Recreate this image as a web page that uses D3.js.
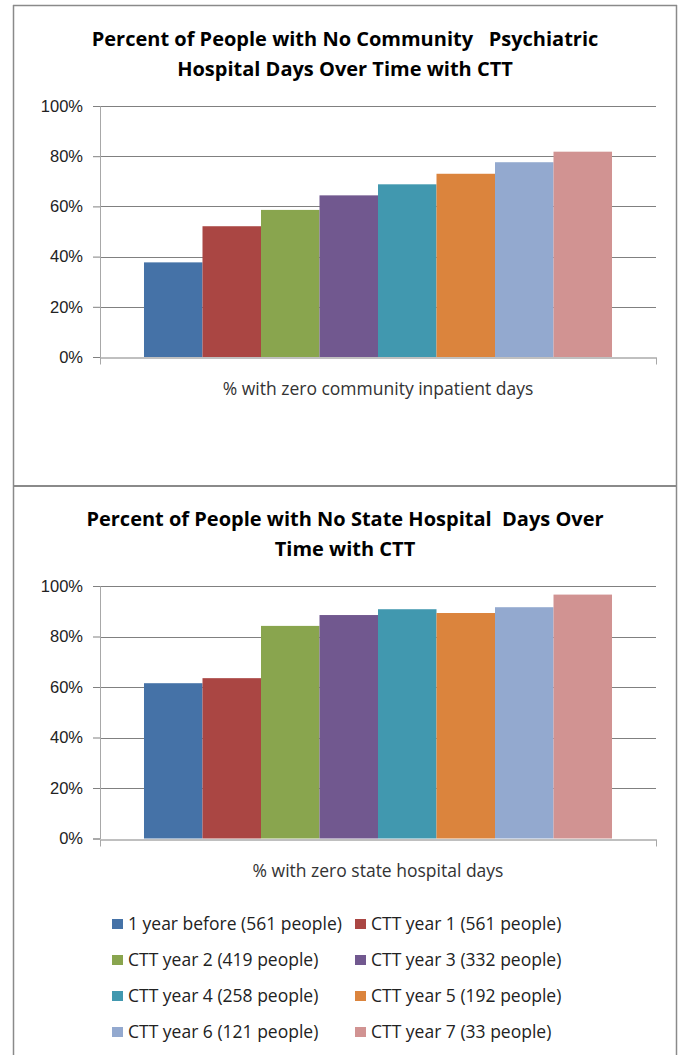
<!DOCTYPE html>
<html>
<head>
<meta charset="utf-8">
<script src="https://cdn.jsdelivr.net/npm/d3@7"></script>
<style>
  body { margin: 0; background: #fff; }
  svg { display: block; font-family: "Open Sans", sans-serif; }
  .title { font-weight: bold; font-size: 20px; fill: #000; white-space: pre; }
  .tick text { font-size: 16.5px; fill: #222; }
  .xlabel { font-size: 17.5px; fill: #333; }
  .legend text { font-size: 17.5px; fill: #222; }
</style>
</head>
<body>
<svg id="chart" width="678" height="1055"></svg>
<script>
const series = [
    '1 year before (561 people)',
    'CTT year 1 (561 people)',
    'CTT year 2 (419 people)',
    'CTT year 3 (332 people)',
    'CTT year 4 (258 people)',
    'CTT year 5 (192 people)',
    'CTT year 6 (121 people)',
    'CTT year 7 (33 people)'
];
const colors = ['#4572A7', '#AA4643', '#89A54E', '#71588F', '#4198AF', '#DB843D', '#93A9CF', '#D19392'];

const communityValues = [0.377, 0.521, 0.586, 0.644, 0.688, 0.730, 0.776, 0.818];
const stateValues = [0.615, 0.635, 0.842, 0.885, 0.908, 0.893, 0.916, 0.966];

const yTicks = [0, 0.2, 0.4, 0.6, 0.8, 1.0];

const charts = [
    {
        title: ['Percent of People with No Community   Psychiatric', 'Hospital Days Over Time with CTT'],
        xLabel: '% with zero community inpatient days',
        values: communityValues,
        titleY: 46,
        top: 106, bottom: 357, labelY: 395
    },
    {
        title: ['Percent of People with No State Hospital  Days Over', 'Time with CTT'],
        xLabel: '% with zero state hospital days',
        values: stateValues,
        titleY: 526,
        top: 586, bottom: 838.5, labelY: 877
    }
];

const svg = d3.select('#chart');
const plotLeft = 100, plotRight = 656;
const format = d3.format('.0%');

// frame
const borderColor = '#8a8a8a';
svg.append('line').attr('x1', 13.5).attr('x2', 13.5).attr('y1', 5).attr('y2', 1055)
    .attr('stroke', borderColor).attr('stroke-width', 1.5);
svg.append('line').attr('x1', 676.5).attr('x2', 676.5).attr('y1', 5).attr('y2', 1055)
    .attr('stroke', borderColor).attr('stroke-width', 1.5);
svg.append('line').attr('x1', 13).attr('x2', 677).attr('y1', 5.5).attr('y2', 5.5)
    .attr('stroke', borderColor).attr('stroke-width', 1.5);
svg.append('line').attr('x1', 13).attr('x2', 677).attr('y1', 486).attr('y2', 486)
    .attr('stroke', borderColor).attr('stroke-width', 2);

// one category, bars side by side (gap width 150%)
const group = d3.scaleBand().domain(['all']).range([plotLeft, plotRight])
    .paddingInner(0).paddingOuter(0.094);
const x = d3.scaleBand().domain(series)
    .range([group('all'), group('all') + group.bandwidth()]).padding(0);
const color = d3.scaleOrdinal().domain(series).range(colors);

charts.forEach(c => drawChart(c));

function drawChart(c) {
    const g = svg.append('g');
    const y = d3.scaleLinear().domain([0, 1]).range([c.bottom, c.top]);

    g.append('text')
        .attr('class', 'title')
        .attr('x', 345)
        .attr('y', c.titleY)
        .attr('text-anchor', 'middle')
        .selectAll('tspan')
        .data(c.title)
        .enter()
        .append('tspan')
        .attr('x', 345)
        .attr('dy', (d, i) => i === 0 ? 0 : 30)
        .text(d => d);

    // gridlines
    g.selectAll('.grid')
        .data(yTicks.slice(1))
        .enter()
        .append('line')
        .attr('class', 'grid')
        .attr('x1', plotLeft)
        .attr('x2', plotRight)
        .attr('y1', d => Math.round(y(d)) + 0.5)
        .attr('y2', d => Math.round(y(d)) + 0.5)
        .attr('stroke', '#808080');

    // bars
    g.selectAll('.bar')
        .data(c.values)
        .enter()
        .append('rect')
        .attr('class', 'bar')
        .attr('x', (d, i) => x(series[i]))
        .attr('width', x.bandwidth())
        .attr('y', d => y(d))
        .attr('height', d => y(0) - y(d))
        .attr('fill', (d, i) => color(series[i]));

    // y axis
    const yAxis = g.append('g')
        .attr('transform', 'translate(' + plotLeft + ',0)')
        .call(d3.axisLeft(y).tickValues(yTicks).tickFormat(format).tickSize(7).tickPadding(10));
    yAxis.select('.domain').attr('stroke', '#a8a8a8');
    yAxis.selectAll('.tick line').attr('stroke', '#808080');
    yAxis.selectAll('.tick text').attr('font-family', null).attr('font-size', null);

    // x axis
    const xAxis = g.append('g')
        .attr('transform', 'translate(0,' + (Math.round(y(0)) + 0.5) + ')')
        .call(d3.axisBottom(d3.scaleLinear().domain([0, 1]).range([plotLeft, plotRight]))
            .tickValues([0, 1]).tickFormat('').tickSize(7).tickSizeOuter(0));
    xAxis.select('.domain').attr('stroke', '#808080');
    xAxis.selectAll('.tick line').attr('stroke', '#a8a8a8');

    g.append('text')
        .attr('class', 'xlabel')
        .attr('x', (plotLeft + plotRight) / 2)
        .attr('y', c.labelY)
        .attr('text-anchor', 'middle')
        .text(c.xLabel);
}

// legend
const legendCols = [112, 355];
const legendRows = [924, 960, 996, 1032];
const legend = svg.append('g').attr('class', 'legend');
const item = legend.selectAll('g')
    .data(series)
    .enter()
    .append('g')
    .attr('transform', (d, i) => 'translate(' + legendCols[i % 2] + ',' + legendRows[Math.floor(i / 2)] + ')');
item.append('rect')
    .attr('x', 0).attr('y', -5)
    .attr('width', 11).attr('height', 10)
    .attr('fill', d => color(d));
item.append('text')
    .attr('x', 16)
    .attr('y', 6)
    .text(d => d);
</script>
</body>
</html>
